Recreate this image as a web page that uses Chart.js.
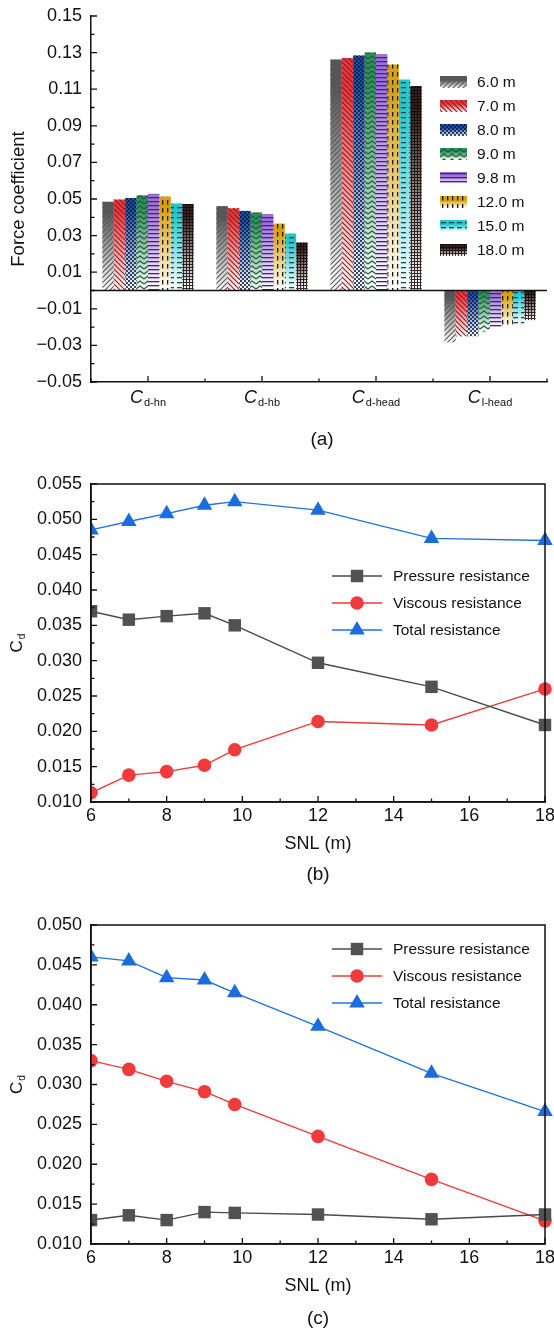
<!DOCTYPE html>
<html>
<head>
<meta charset="utf-8">
<script src="https://cdn.jsdelivr.net/npm/chart.js@4.4.1/dist/chart.umd.min.js"></script>
<style>
  body { margin: 0; background: #fff; width: 554px; height: 1332px; overflow: hidden; }
  .panel { position: absolute; left: 0; width: 554px; }
</style>
</head>
<body>
<div class="panel" style="top:0;height:450px"><canvas id="chartA"></canvas></div>
<div class="panel" style="top:450px;height:440px"><canvas id="chartB"></canvas></div>
<div class="panel" style="top:890px;height:442px"><canvas id="chartC"></canvas></div>
<script>
// (a) force coefficients per SNL
const barCategories = ['d-hn', 'd-hb', 'd-head', 'l-head'];
const barSeries = ['6.0 m', '7.0 m', '8.0 m', '9.0 m', '9.8 m', '12.0 m', '15.0 m', '18.0 m'];
const cf6 = [0.0485, 0.0461, 0.1262, -0.0284];
const cf7 = [0.0497, 0.0450, 0.1270, -0.0251];
const cf8 = [0.0506, 0.0435, 0.1284, -0.0250];
const cf9 = [0.0521, 0.0426, 0.1300, -0.0224];
const cf98 = [0.0528, 0.0417, 0.1291, -0.0204];
const cf12 = [0.0514, 0.0366, 0.1235, -0.0198];
const cf15 = [0.0475, 0.0311, 0.1153, -0.0188];
const cf18 = [0.0472, 0.0262, 0.1117, -0.0162];
const forceTicks = [-0.05, -0.03, -0.01, 0.01, 0.03, 0.05, 0.07, 0.09, 0.11, 0.13, 0.15];

// (b) and (c) drag coefficients
const snl = [6, 7, 8, 9, 9.8, 12, 15, 18];
const snlTicks = [6, 8, 10, 12, 14, 16, 18];
const pressureB = [0.0370, 0.0358, 0.0363, 0.0367, 0.0350, 0.0297, 0.0263, 0.0209];
const viscousB = [0.0113, 0.0138, 0.0143, 0.0152, 0.0174, 0.0214, 0.0209, 0.0260];
const totalB = [0.0485, 0.0497, 0.0508, 0.0520, 0.0525, 0.0513, 0.0473, 0.0470];
const cdTicksB = [0.010, 0.015, 0.020, 0.025, 0.030, 0.035, 0.040, 0.045, 0.050, 0.055];
const pressureC = [0.0130, 0.0136, 0.0130, 0.0140, 0.0139, 0.0137, 0.0131, 0.0137];
const viscousC = [0.0330, 0.0319, 0.0304, 0.0291, 0.0275, 0.0235, 0.0181, 0.0129];
const totalC = [0.0460, 0.0455, 0.0434, 0.0431, 0.0415, 0.0373, 0.0314, 0.0266];
const cdTicksC = [0.010, 0.015, 0.020, 0.025, 0.030, 0.035, 0.040, 0.045, 0.050];

const FONT = '"Liberation Sans", Arial, sans-serif';
const INK = '#111';
Chart.defaults.font.family = FONT;
Chart.defaults.color = INK;

const barValues = [cf6, cf7, cf8, cf9, cf98, cf12, cf15, cf18];
const barColors = ['#555555', '#e8393c', '#1d4fa6', '#2f8f5a', '#a36fe0', '#d8a10b', '#22c6cc', '#3a2222'];
const patternKinds = ['fwd', 'back', 'check', 'zig', 'hline', 'vdash', 'hdash', 'grid'];
const patternInk = ['#595959', '#8e1c1c', '#0b1a3c', '#1d5a37', '#3e2a66', '#1a1a1a', '#1a4950', '#120808'];

function makeTile(kind, color) {
  const c = document.createElement('canvas');
  const size = {fwd: [5, 5], back: [5, 5], check: [4, 4], zig: [8, 5], hline: [4, 4],
                vdash: [5, 8], hdash: [8, 5], grid: [3, 3]}[kind];
  c.width = size[0]; c.height = size[1];
  const g = c.getContext('2d');
  g.strokeStyle = color; g.fillStyle = color; g.lineWidth = 1.1;
  g.beginPath();
  if (kind === 'fwd') {
    g.moveTo(0, 5); g.lineTo(5, 0); g.moveTo(-1, 1); g.lineTo(1, -1); g.moveTo(4, 6); g.lineTo(6, 4); g.stroke();
  } else if (kind === 'back') {
    g.moveTo(0, 0); g.lineTo(5, 5); g.moveTo(-1, 4); g.lineTo(1, 6); g.moveTo(4, -1); g.lineTo(6, 1); g.stroke();
  } else if (kind === 'check') {
    g.globalAlpha = 0.8; g.fillRect(0, 0, 2, 2); g.fillRect(2, 2, 2, 2);
  } else if (kind === 'zig') {
    g.moveTo(0, 4); g.lineTo(4, 1); g.lineTo(8, 4); g.stroke();
  } else if (kind === 'hline') {
    g.fillRect(0, 1, 4, 1.3);
  } else if (kind === 'vdash') {
    g.fillRect(2, 0, 1.3, 4.5);
  } else if (kind === 'hdash') {
    g.fillRect(1, 2, 5, 1.3);
  } else if (kind === 'grid') {
    g.globalAlpha = 0.85; g.fillRect(0, 0, 3, 1); g.fillRect(0, 1, 1, 2);
  }
  return c;
}
const barTiles = patternKinds.map((k, i) => makeTile(k, patternInk[i]));

function makeSwatch(i) {
  const c = document.createElement('canvas');
  c.width = 27; c.height = 12;
  const g = c.getContext('2d');
  const grad = g.createLinearGradient(0, 0, 0, 12);
  grad.addColorStop(0, barColors[i]); grad.addColorStop(0.35, barColors[i]); grad.addColorStop(1, '#ffffff');
  g.fillStyle = grad; g.fillRect(0, 0, 27, 12);
  g.fillStyle = g.createPattern(barTiles[i], 'repeat'); g.fillRect(0, 0, 27, 12);
  return c;
}
const swatches = barSeries.map((_, i) => makeSwatch(i));

function barGradient(c, color) {
  const chart = c.chart;
  if (c.type !== 'data' || !chart.chartArea) return color;
  const y = chart.scales.y;
  const p1 = y.getPixelForValue(c.raw), p0 = y.getPixelForValue(0);
  const g = chart.ctx.createLinearGradient(0, Math.min(p0, p1), 0, Math.max(p0, p1));
  g.addColorStop(0, color); g.addColorStop(0.12, color); g.addColorStop(1, '#ffffff');
  return g;
}

function zeroPad(s) { s.paddingLeft = 0; s.paddingRight = 0; s.paddingTop = 0; s.paddingBottom = 0; }
function minus(v, d) { return (v < 0 ? '\u2212' : '') + Math.abs(v).toFixed(d); }
function mids(arr) { return arr.slice(1).map((p, i) => (p + arr[i]) / 2); }

function drawTickMarks(ctx, a, xs, xMinor, ys, yMinor) {
  ctx.save();
  ctx.strokeStyle = INK; ctx.lineWidth = 1.3;
  ctx.beginPath();
  xs.forEach(p => { ctx.moveTo(p, a.bottom); ctx.lineTo(p, a.bottom - 6); });
  xMinor.forEach(p => { ctx.moveTo(p, a.bottom); ctx.lineTo(p, a.bottom - 3.5); });
  ys.forEach(p => { ctx.moveTo(a.left, p); ctx.lineTo(a.left + 6, p); });
  yMinor.forEach(p => { ctx.moveTo(a.left, p); ctx.lineTo(a.left + 3.5, p); });
  ctx.stroke();
  ctx.restore();
}

function drawSub(ctx, x, y, main, sub, mainFont, subFont, subDrop) {
  ctx.font = mainFont;
  const wm = ctx.measureText(main).width;
  ctx.font = subFont;
  const ws = ctx.measureText(sub).width;
  const x0 = x - (wm + ws + 1) / 2;
  ctx.font = mainFont; ctx.fillText(main, x0, y);
  ctx.font = subFont; ctx.fillText(sub, x0 + wm + 1, y + subDrop);
}

const barDecor = {
  id: 'barDecor',
  afterDatasetsDraw(chart) {
    const {ctx, chartArea: a, scales: {y}} = chart;
    ctx.save();
    chart.data.datasets.forEach((ds, i) => {
      const pat = ctx.createPattern(barTiles[i], 'repeat');
      chart.getDatasetMeta(i).data.forEach(bar => {
        const p = bar.getProps(['x', 'y', 'base', 'width'], true);
        ctx.fillStyle = pat;
        ctx.fillRect(p.x - p.width / 2, Math.min(p.y, p.base), p.width, Math.abs(p.base - p.y));
      });
    });
    const y0 = y.getPixelForValue(0);
    ctx.strokeStyle = INK; ctx.lineWidth = 1.5;
    ctx.beginPath(); ctx.moveTo(a.left, y0); ctx.lineTo(a.right, y0); ctx.stroke();
    ctx.restore();
  },
  afterDraw(chart) {
    const {ctx, chartArea: a, scales: {x, y}} = chart;
    const xs = barCategories.map((_, i) => x.getPixelForValue(i));
    const ys = forceTicks.map(v => y.getPixelForValue(v));
    drawTickMarks(ctx, a, xs, [a.left, ...mids(xs), a.right], ys, mids(ys));

    ctx.save();
    ctx.fillStyle = INK;
    ctx.textBaseline = 'alphabetic';
    ctx.textAlign = 'left';
    barCategories.forEach((sub, i) => {
      drawSub(ctx, xs[i], a.bottom + 21, 'C', sub, 'italic 18px ' + FONT, '11px ' + FONT, 3);
    });

    // legend
    ctx.textBaseline = 'middle';
    ctx.font = '15.5px ' + FONT;
    barSeries.forEach((name, i) => {
      const ry = a.top + 66 + i * 24;
      ctx.drawImage(swatches[i], a.right - 107, ry - 6);
      ctx.fillText(name, a.right - 70, ry + 1);
    });

    ctx.textAlign = 'center';
    ctx.font = '19px ' + FONT;
    ctx.fillText('(a)', (a.left + a.right) / 2 + 3, a.bottom + 58);
    ctx.restore();
  }
};

new Chart(document.getElementById('chartA'), {
  type: 'bar',
  data: {
    labels: barCategories,
    datasets: barSeries.map((name, i) => ({
      label: name,
      data: barValues[i],
      backgroundColor: c => barGradient(c, barColors[i]),
      borderWidth: 0,
      categoryPercentage: 0.8,
      barPercentage: 1.0
    }))
  },
  options: {
    responsive: true,
    maintainAspectRatio: false,
    animation: false,
    layout: { padding: { top: 16, right: 7, bottom: 0, left: 0 } },
    plugins: { legend: { display: false }, tooltip: { enabled: false } },
    scales: {
      x: {
        grid: { display: false, drawTicks: false },
        border: { color: INK, width: 1.5 },
        ticks: { display: false },
        afterFit: s => { s.height = 68; zeroPad(s); }
      },
      y: {
        min: -0.05,
        max: 0.15,
        afterBuildTicks: s => { s.ticks = forceTicks.map(v => ({ value: v })); },
        grid: { display: false, drawTicks: false },
        border: { color: INK, width: 1.5 },
        ticks: { padding: 9, font: { size: 18 }, color: INK, callback: v => minus(v, 2) },
        title: { display: true, text: 'Force coefficient', font: { size: 18.5 }, color: INK, padding: { top: 8, bottom: 0 } },
        afterFit: s => { s.width = 91; zeroPad(s); }
      }
    }
  },
  plugins: [barDecor]
});

// (b) and (c)
const lineStyles = [
  { label: 'Pressure resistance', color: '#4a4a4a', point: '#525252', style: 'rect', r: 8.8 },
  { label: 'Viscous resistance', color: '#ef3b3b', point: '#ef3b3b', style: 'circle', r: 6.8 },
  { label: 'Total resistance', color: '#2272da', point: '#1c6cdc', style: 'triangle', r: 9 }
];

function resistanceChart(id, values, yTicks, padTop, legendOffset, caption, captionDrop) {
  const decor = {
    id: 'lineDecor',
    afterDraw(chart) {
      const {ctx, chartArea: a, scales: {x, y}} = chart;
      const xs = snlTicks.map(v => x.getPixelForValue(v));
      const ys = yTicks.map(v => y.getPixelForValue(v));
      drawTickMarks(ctx, a, xs, mids(xs), ys, mids(ys));
      ctx.save();
      ctx.strokeStyle = INK; ctx.lineWidth = 1.5;
      ctx.strokeRect(a.left, a.top, a.right - a.left, a.bottom - a.top);

      // legend
      ctx.font = '15.5px ' + FONT;
      ctx.textBaseline = 'middle';
      ctx.textAlign = 'left';
      lineStyles.forEach((s, i) => {
        const ry = a.top + legendOffset + i * 27;
        ctx.strokeStyle = s.color; ctx.lineWidth = 1.4;
        ctx.beginPath(); ctx.moveTo(332, ry); ctx.lineTo(382, ry); ctx.stroke();
        ctx.fillStyle = s.point;
        Chart.helpers.drawPoint(ctx, { pointStyle: s.style, radius: s.r, borderWidth: 0 }, 357, ry);
        ctx.fillStyle = INK;
        ctx.fillText(s.label, 393, ry + 1);
      });

      // y title C_d
      ctx.save();
      ctx.translate(16, (a.top + a.bottom) / 2);
      ctx.rotate(-Math.PI / 2);
      ctx.textBaseline = 'alphabetic';
      drawSub(ctx, 0, 6, 'C', 'd', '17px ' + FONT, '10px ' + FONT, 3);
      ctx.restore();

      ctx.textAlign = 'center';
      ctx.font = '19px ' + FONT;
      ctx.fillText(caption, (a.left + a.right) / 2, a.bottom + captionDrop);
      ctx.restore();
    }
  };

  return new Chart(document.getElementById(id), {
    type: 'line',
    data: {
      datasets: lineStyles.map((s, k) => ({
        label: s.label,
        data: snl.map((v, j) => ({ x: v, y: values[k][j] })),
        borderColor: s.color,
        backgroundColor: s.point,
        borderWidth: 1.4,
        pointStyle: s.style,
        pointRadius: s.r,
        pointBorderWidth: 0,
        pointBackgroundColor: s.point,
        tension: 0,
        clip: { left: 0, top: false, right: false, bottom: false }
      }))
    },
    options: {
      responsive: true,
      maintainAspectRatio: false,
      animation: false,
      layout: { padding: { top: padTop, right: 7, bottom: 0, left: 0 } },
      plugins: { legend: { display: false }, tooltip: { enabled: false } },
      scales: {
        x: {
          type: 'linear',
          min: 6,
          max: 18,
          afterBuildTicks: s => { s.ticks = snlTicks.map(v => ({ value: v })); },
          grid: { display: false, drawTicks: false },
          border: { color: INK, width: 1.5 },
          ticks: { padding: 3, font: { size: 18 }, color: INK, maxRotation: 0, callback: v => String(v) },
          title: { display: true, text: 'SNL (m)', font: { size: 18 }, color: INK, padding: { top: 0, bottom: 35 } },
          afterFit: s => { s.height = 88; zeroPad(s); }
        },
        y: {
          min: yTicks[0],
          max: yTicks[yTicks.length - 1],
          afterBuildTicks: s => { s.ticks = yTicks.map(v => ({ value: v })); },
          grid: { display: false, drawTicks: false },
          border: { color: INK, width: 1.5 },
          ticks: { padding: 9, font: { size: 18 }, color: INK, callback: v => v.toFixed(3) },
          afterFit: s => { s.width = 91; zeroPad(s); }
        }
      }
    },
    plugins: [decor]
  });
}

resistanceChart('chartB', [pressureB, viscousB, totalB], cdTicksB, 34, 92, '(b)', 73);
resistanceChart('chartC', [pressureC, viscousC, totalC], cdTicksC, 35, 24, '(c)', 75);
</script>
</body>
</html>
